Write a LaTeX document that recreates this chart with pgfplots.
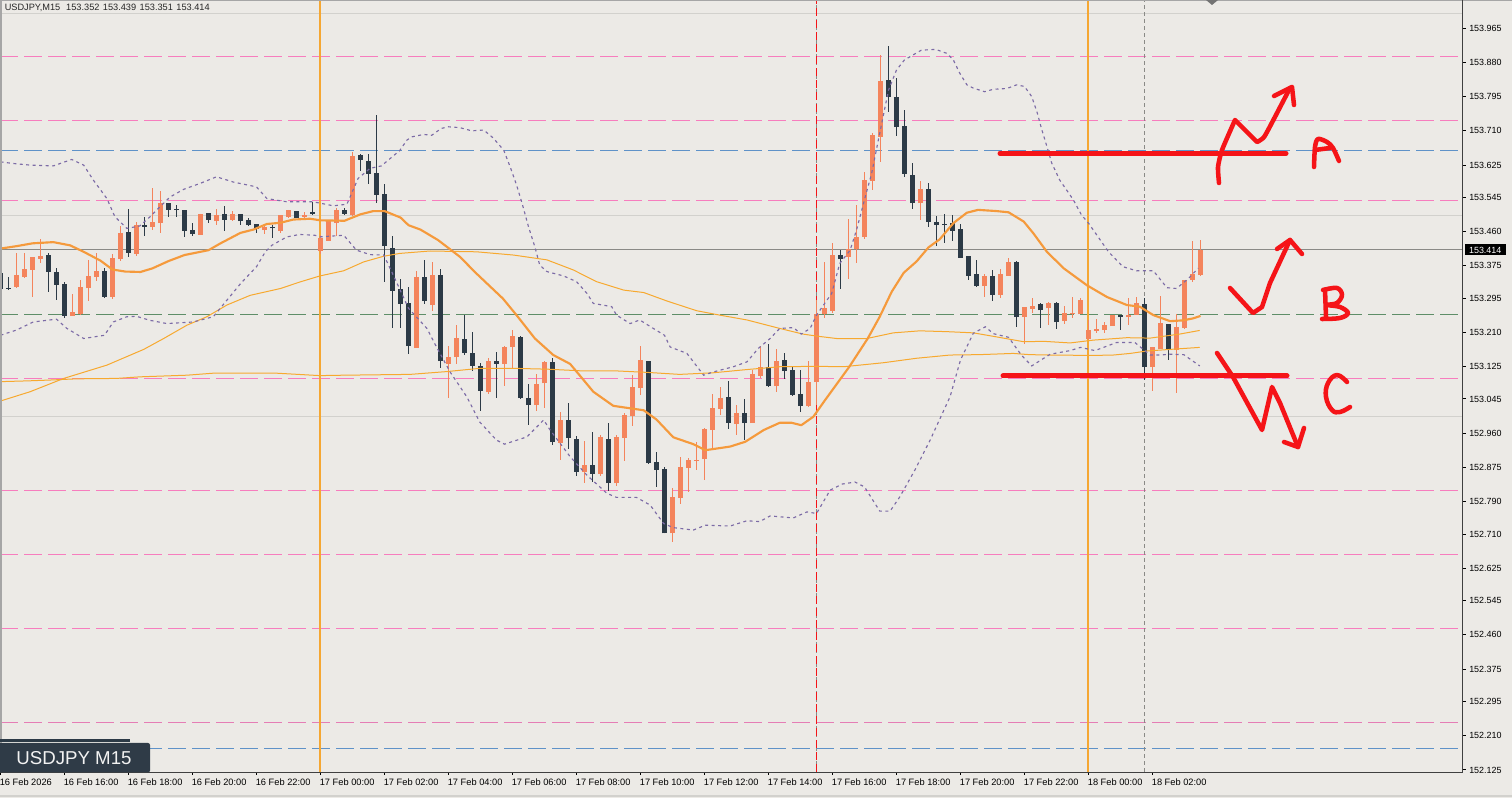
\documentclass[border=0pt]{standalone}
\usepackage{fontspec}
\setmainfont{Liberation Sans}
\usepackage{pgfplots}
\usepackage{pgfplotstable}
\pgfplotsset{compat=1.18}
\definecolor{bgc}{HTML}{ECEAE6}
\definecolor{bullc}{HTML}{F4845C}
\definecolor{bearc}{HTML}{2C3A46}
\definecolor{pinkl}{HTML}{F77DBE}
\definecolor{bluel}{HTML}{5F92C8}
\definecolor{greenl}{HTML}{5E8E68}
\definecolor{grayl}{HTML}{8A8A86}
\definecolor{lightl}{HTML}{D2D1CD}
\definecolor{vorange}{HTML}{F5A733}
\definecolor{maorange}{HTML}{F59A3C}
\definecolor{thinorange}{HTML}{F7A92F}
\definecolor{bandc}{HTML}{7C6BA6}
\definecolor{redl}{HTML}{F51418}
\definecolor{boxc}{HTML}{2F3B47}
\pgfplotstableread{
i o h l c
2 153.323 153.406 153.321 153.352
3 153.347 153.406 153.344 153.367
4 153.365 153.398 153.299 153.396
5 153.392 153.441 153.383 153.399
9 153.252 153.305 153.251 153.261
10 153.256 153.339 153.253 153.322
11 153.320 153.389 153.289 153.350
12 153.348 153.408 153.338 153.362
14 153.298 153.405 153.294 153.395
15 153.392 153.474 153.388 153.457
17 153.405 153.485 153.400 153.476
19 153.471 153.567 153.465 153.484
20 153.481 153.561 153.457 153.531
25 153.452 153.505 153.452 153.504
27 153.486 153.516 153.476 153.501
29 153.489 153.511 153.486 153.504
33 153.464 153.479 153.454 153.471
35 153.462 153.501 153.457 153.501
36 153.496 153.514 153.494 153.514
38 153.496 153.509 153.494 153.501
40 153.412 153.451 153.405 153.444
41 153.437 153.486 153.437 153.486
42 153.481 153.519 153.449 153.513
44 153.501 153.657 153.499 153.648
52 153.171 153.362 153.171 153.347
54 153.278 153.384 153.263 153.352
56 153.132 153.176 153.047 153.149
57 153.149 153.228 153.132 153.196
61 153.062 153.146 153.057 153.139
63 153.132 153.176 153.077 153.174
64 153.174 153.216 153.121 153.201
67 153.030 153.107 153.015 153.082
68 153.084 153.139 153.022 153.136
70 152.936 153.012 152.893 152.993
73 152.864 152.941 152.836 152.881
75 152.859 152.955 152.854 152.950
77 152.836 152.955 152.829 152.950
78 152.948 153.010 152.891 153.005
79 153.003 153.104 152.978 153.074
80 153.072 153.176 153.055 153.141
84 152.712 152.824 152.690 152.802
85 152.799 152.901 152.784 152.876
86 152.874 152.898 152.814 152.893
87 152.891 152.938 152.869 152.893
88 152.896 152.973 152.844 152.970
89 152.968 153.057 152.921 153.022
90 153.020 153.074 153.005 153.047
92 152.983 153.030 152.955 153.010
94 152.985 153.117 152.985 153.107
95 153.102 153.176 153.097 153.124
97 153.077 153.169 153.062 153.139
101 153.027 153.139 153.025 153.087
102 153.087 153.290 153.030 153.255
103 153.256 153.385 153.246 153.271
104 153.263 153.432 153.258 153.402
106 153.397 153.491 153.343 153.417
107 153.416 153.526 153.382 153.447
108 153.447 153.608 153.442 153.588
109 153.586 153.705 153.563 153.700
110 153.695 153.898 153.633 153.834
115 153.531 153.586 153.489 153.566
123 153.325 153.355 153.298 153.350
125 153.303 153.367 153.295 153.355
126 153.350 153.395 153.350 153.385
128 153.248 153.273 153.181 153.273
129 153.268 153.295 153.258 153.275
131 153.270 153.285 153.228 153.283
133 153.238 153.275 153.231 153.258
134 153.256 153.297 153.245 153.258
135 153.255 153.295 153.255 153.290
136 153.193 153.241 153.191 153.216
137 153.213 153.243 153.208 153.218
138 153.216 153.235 153.208 153.228
139 153.226 153.253 153.226 153.253
141 153.248 153.295 153.228 153.253
142 153.253 153.297 153.253 153.283
144 153.124 153.174 153.065 153.174
145 153.169 153.300 153.169 153.233
147 153.166 153.255 153.060 153.223
148 153.221 153.340 153.218 153.340
149 153.340 153.437 153.335 153.355
150 153.352 153.439 153.351 153.414
}\bulltable
\pgfplotstableread{
i o h l c
0 153.357 153.375 153.315 153.319
1 153.320 153.348 153.315 153.318
6 153.402 153.406 153.311 153.361
7 153.360 153.371 153.290 153.328
8 153.330 153.336 153.246 153.251
13 153.362 153.371 153.298 153.299
16 153.459 153.516 153.398 153.408
18 153.476 153.496 153.449 153.472
21 153.531 153.531 153.496 153.514
22 153.517 153.526 153.496 153.514
23 153.514 153.514 153.447 153.462
24 153.464 153.481 153.449 153.454
26 153.506 153.506 153.481 153.489
28 153.504 153.524 153.462 153.489
30 153.504 153.504 153.476 153.486
31 153.489 153.494 153.474 153.476
32 153.479 153.479 153.457 153.466
34 153.471 153.476 153.444 153.468
37 153.511 153.511 153.494 153.494
39 153.509 153.533 153.501 153.503
43 153.514 153.519 153.501 153.504
45 153.650 153.653 153.610 153.638
46 153.635 153.653 153.578 153.603
47 153.605 153.749 153.531 153.551
48 153.553 153.578 153.335 153.424
49 153.419 153.449 153.221 153.313
50 153.318 153.343 153.221 153.281
51 153.283 153.322 153.156 153.176
53 153.347 153.389 153.280 153.288
55 153.352 153.367 153.122 153.139
58 153.194 153.253 153.154 153.159
59 153.159 153.211 153.114 153.127
60 153.127 153.134 153.015 153.065
62 153.139 153.161 153.047 153.132
65 153.198 153.201 153.045 153.047
66 153.047 153.082 152.980 153.030
69 153.136 153.146 152.931 152.938
71 152.993 153.035 152.921 152.948
72 152.946 152.953 152.854 152.864
74 152.881 152.963 152.839 152.859
76 152.946 152.985 152.817 152.836
81 153.139 153.139 152.884 152.886
82 152.888 152.913 152.826 152.869
83 152.871 152.876 152.712 152.712
91 153.050 153.089 152.970 152.985
93 153.010 153.045 152.943 152.985
96 153.124 153.181 153.074 153.077
98 153.141 153.159 153.094 153.114
99 153.117 153.127 153.052 153.055
100 153.057 153.117 153.012 153.027
105 153.402 153.414 153.318 153.392
111 153.836 153.920 153.757 153.794
112 153.794 153.841 153.697 153.719
113 153.722 153.762 153.595 153.603
114 153.600 153.630 153.516 153.531
116 153.566 153.581 153.471 153.484
117 153.484 153.499 153.424 153.476
118 153.479 153.504 153.432 153.476
119 153.482 153.501 153.437 153.462
120 153.467 153.479 153.395 153.395
121 153.400 153.400 153.340 153.350
122 153.355 153.390 153.323 153.325
124 153.350 153.365 153.288 153.303
127 153.384 153.387 153.223 153.248
130 153.280 153.283 153.221 153.265
132 153.283 153.285 153.218 153.235
140 153.253 153.253 153.216 153.248
143 153.280 153.295 153.092 153.124
146 153.231 153.231 153.141 153.169
}\beartable
\pgfplotstableread{
i p
0 153.418
2 153.424
4 153.431
6.6 153.434
8.7 153.426
10.4 153.410
12.5 153.388
14 153.366
15.6 153.361
17.5 153.360
19 153.369
21 153.387
23 153.402
26 153.414
27.5 153.431
30 153.457
31.6 153.465
33.3 153.479
35 153.482
36.6 153.490
38.7 153.492
40 153.488
43 153.487
45 153.503
46.6 153.511
48 153.511
50 153.495
51 153.476
52.5 153.465
54.7 153.439
57.4 153.398
59.5 153.356
62.8 153.294
64.5 153.253
66.8 153.195
69.1 153.154
71.2 153.132
74.1 153.063
76.6 153.028
80.4 153.017
82 152.994
84.1 152.950
86.6 152.933
88.1 152.918
91.2 152.927
93.1 152.939
95.4 152.968
97.4 152.986
98.9 152.986
100.1 152.980
101.6 153.001
103.06 153.042
106.1 153.125
108.4 153.195
109.9 153.249
111.4 153.311
112.9 153.358
114.5 153.386
116 153.421
117.4 153.441
119.1 153.481
120.8 153.507
122.2 153.514
124.5 153.511
126 153.508
127.9 153.485
129.1 153.456
130.8 153.410
132.9 153.369
135.8 153.327
138.3 153.298
140.8 153.278
142.4 153.274
144.1 153.253
146.2 153.238
147.8 153.240
149.1 153.245
150 153.251
}\fastma
\pgfplotstableread{
i p
0 153.040
3.7 153.063
7.9 153.096
13.3 153.129
17.9 153.168
20.4 153.195
23.3 153.228
25.8 153.249
28.3 153.278
31.2 153.302
35 153.319
37.4 153.335
39.9 153.350
42.9 153.363
45.4 153.385
47.9 153.399
49.9 153.406
53.7 153.412
59.5 153.410
64.1 153.402
68.3 153.390
71.6 153.365
74.5 153.336
77.9 153.315
80.4 153.309
83.3 153.288
87 153.264
89.9 153.253
93.3 153.241
97.4 153.220
100.3 153.206
102 153.201
104.5 153.195
108.3 153.195
111.6 153.209
114.9 153.214
118.3 153.212
121.6 153.209
124.5 153.199
127.9 153.187
130.4 153.188
133.7 153.184
136.6 153.191
140.8 153.197
143.7 153.196
147.4 153.206
149.9 153.215
}\midma
\pgfplotstableread{
i p
0 153.088
3.5 153.090
6.2 153.092
9.5 153.095
14.5 153.096
17.5 153.100
20.4 153.102
23.3 153.104
26.6 153.109
34.5 153.109
39.9 153.103
42.9 153.104
51.2 153.106
55.8 153.113
59.9 153.121
64.1 153.121
68.3 153.119
72.4 153.115
76.6 153.115
80.8 153.111
84.9 153.106
89.1 153.110
93.3 153.118
97.4 153.125
102 153.126
105.4 153.125
110.4 153.135
114.5 153.146
118.7 153.154
122.4 153.155
126.6 153.158
128.6 153.155
131.2 153.154
136.6 153.153
139.1 153.154
141.2 153.158
143.3 153.164
149.9 153.173
}\slowma
\pgfplotstableread{
i p
0 153.633
1.6 153.629
3.7 153.625
6.6 153.623
8.9 153.639
10.4 153.625
11.6 153.588
13.3 153.542
14.3 153.497
15.8 153.468
17.4 153.474
18.7 153.497
19.9 153.521
21.2 153.546
22.9 153.565
25 153.580
27 153.596
29.1 153.583
32 153.571
33.3 153.542
35.8 153.534
39.1 153.534
41.6 153.524
43.3 153.528
44.7 153.592
46.2 153.617
47.6 153.623
49.9 153.661
50.8 153.687
51.4 153.695
52.9 153.701
53.9 153.699
55.1 153.716
56 153.720
57.4 153.718
58.9 153.710
60.4 153.712
61.6 153.692
62.9 153.662
63.7 153.621
64.5 153.576
65.2 153.530
66 153.472
66.8 153.422
67.4 153.377
68.3 153.361
70.4 153.350
72 153.336
73.3 153.307
74.1 153.282
76.4 153.274
77 153.253
78.7 153.232
79.9 153.241
81.6 153.220
83 153.203
83.7 153.174
85.8 153.158
87.9 153.104
89.1 153.112
91.6 153.125
93.3 153.137
94.7 153.170
96.2 153.195
97.4 153.220
99.1 153.222
100.1 153.206
101.2 153.220
102 153.253
103.9 153.307
104.9 153.381
106.2 153.414
107 153.464
108.1 153.547
108.9 153.605
109.9 153.704
111 153.811
112 153.861
113 153.886
115.1 153.910
116.9 153.912
118.3 153.902
119.1 153.886
119.9 153.853
120.8 153.824
121.6 153.816
123 153.807
124.1 153.813
125.8 153.815
127 153.824
128 153.820
128.9 153.795
129.6 153.754
130.1 153.717
130.8 153.671
131.4 153.630
132.4 153.588
134.1 153.539
135.1 153.502
136 153.481
138.5 153.410
140.3 153.373
142 153.363
144.1 153.363
145.8 153.321
147 153.319
148.5 153.344
149.7 153.369
}\upperband
\pgfplotstableread{
i p
0 153.203
2 153.216
4.1 153.236
7 153.243
8.3 153.220
10.4 153.195
13 153.203
14.1 153.236
15.8 153.249
17 153.250
18.7 153.240
20.8 153.232
24.1 153.236
26.6 153.249
28.3 153.290
30 153.331
32 153.373
33.1 153.410
33.9 153.426
35.8 153.447
37.4 153.453
39.3 153.451
39.9 153.447
42.9 153.451
44.5 153.414
46.2 153.403
47.9 153.402
49.1 153.352
51 153.270
53.3 153.220
54.5 153.174
56.2 153.112
58.3 153.050
59.9 152.988
62 152.943
63 152.933
65.8 152.951
67.9 152.993
68.7 152.968
71.2 152.902
73.3 152.856
75.8 152.811
77 152.801
79.5 152.801
81.2 152.782
82.9 152.736
84.1 152.726
86.6 152.720
88.1 152.732
91.2 152.730
93.3 152.743
94.9 152.741
96.2 152.755
99.1 152.750
100.8 152.765
102 152.761
103.7 152.819
105.2 152.834
106.8 152.839
108 152.827
109.9 152.767
111.2 152.767
112.4 152.802
114.3 152.869
116.2 152.943
118.7 153.051
120 153.142
121.6 153.208
123.1 153.224
124.1 153.207
126 153.198
127.6 153.154
128.9 153.127
131.2 153.156
133.7 153.165
135 153.173
136.8 153.165
139.5 153.185
141.8 153.185
143.7 153.154
144.9 153.154
146.2 153.156
147.9 153.155
149.9 153.127
}\lowerband
\newcommand{\hl}[2]{\addplot[forget plot,#1,line width=0.75pt] coordinates {(-0.0625,#2) (182.75,#2)};}
\newcommand{\vl}[2]{\addplot[forget plot,#1] coordinates {(#2,152.120) (#2,154.032)};}
\begin{document}
\begin{tikzpicture}[x=1pt,y=1pt]
\path[use as bounding box,fill=bgc] (0,0) rectangle (1134pt,598.5pt);
\begin{axis}[
  at={(0pt,19.5pt)},anchor=south west,
  scale only axis,width=1096.875pt,height=578.25pt,
  xmin=-0.0625,xmax=182.75,ymin=152.120,ymax=154.032,
  axis line style={draw=none},
  xtick={0,8,...,144},
  xticklabels={16 Feb 2026,16 Feb 16:00,16 Feb 18:00,16 Feb 20:00,16 Feb 22:00,17 Feb 00:00,17 Feb 02:00,17 Feb 04:00,17 Feb 06:00,17 Feb 08:00,17 Feb 10:00,17 Feb 12:00,17 Feb 14:00,17 Feb 16:00,17 Feb 18:00,17 Feb 20:00,17 Feb 22:00,18 Feb 00:00,18 Feb 02:00},
  ytick={152.125,152.210,152.295,152.375,152.460,152.545,152.625,152.710,152.790,152.875,152.960,153.045,153.125,153.210,153.295,153.375,153.460,153.545,153.625,153.710,153.795,153.880,153.965},
  xtick pos=bottom,ytick pos=right,yticklabel pos=right,
  tick align=outside,major tick length=2.25pt,
  tick style={draw=black,line width=0.75pt},
  x tick label style={font=\fontsize{6.95}{8}\selectfont,anchor=north west,inner sep=0pt,xshift=-0.7pt,yshift=-2.8pt},
  y tick label style={font=\fontsize{6.7}{8}\selectfont,anchor=west,inner sep=0pt,xshift=2.6pt,
    /pgf/number format/.cd,fixed,fixed zerofill,precision=3,1000 sep={},assume math mode=true},
  clip=true,
  wick/.style={draw=none,mark=none,forget plot,error bars/.cd,y dir=both,y explicit,error mark=none,
     error bar style={line width=0.75pt,draw=#1}},
  body/.style={draw=none,mark=none,forget plot,error bars/.cd,y dir=plus,y explicit,error mark=none,
     error bar style={line width=3.75pt,draw=#1}},
]
% horizontal levels
\hl{lightl,line width=1.5pt}{154.002}
\hl{lightl}{153.500}
\hl{lightl,line width=1.5pt}{153.001}
\hl{pinkl,dash pattern=on 13.5pt off 4.5pt}{153.8944}
\hl{pinkl,dash pattern=on 13.5pt off 4.5pt}{153.7357}
\hl{pinkl,dash pattern=on 13.5pt off 4.5pt}{153.5373}
\hl{pinkl,dash pattern=on 13.5pt off 4.5pt}{153.0959}
\hl{pinkl,dash pattern=on 13.5pt off 4.5pt}{152.8174}
\hl{pinkl,dash pattern=on 13.5pt off 4.5pt}{152.6586}
\hl{pinkl,dash pattern=on 13.5pt off 4.5pt}{152.4759}
\hl{pinkl!85!gray,dash pattern=on 13.5pt off 4.5pt}{152.2420}
\hl{bluel,dash pattern=on 13.5pt off 4.5pt}{153.6613}
\hl{bluel,dash pattern=on 13.5pt off 4.5pt}{152.1783}
\hl{greenl,dash pattern=on 13.5pt off 4.5pt}{153.2538}
\hl{grayl}{153.4158}
% vertical markers
\vl{vorange,line width=1.5pt}{39.95}
\vl{vorange,line width=1.5pt}{135.95}
\vl{grayl,line width=0.75pt,dash pattern=on 3pt off 2.25pt}{143}
\vl{grayl,line width=0.75pt,dash pattern=on 3pt off 2.25pt}{102}
\vl{redl,line width=0.9pt,dash pattern=on 6pt off 3pt}{102}
% candles
\addplot[wick=bullc] table[x=i,y=c,y error plus expr=\thisrow{h}-\thisrow{c},y error minus expr=\thisrow{c}-\thisrow{l}] {\bulltable};
\addplot[wick=bearc] table[x=i,y=c,y error plus expr=\thisrow{h}-\thisrow{c},y error minus expr=\thisrow{c}-\thisrow{l}] {\beartable};
\addplot[body=bullc] table[x=i,y=o,y error plus expr=\thisrow{c}-\thisrow{o}] {\bulltable};
\addplot[body=bearc] table[x=i,y=c,y error plus expr=\thisrow{o}-\thisrow{c}] {\beartable};
% indicators
\addplot[forget plot,thinorange,line width=0.75pt] table[x=i,y=p] {\slowma};
\addplot[forget plot,thinorange,line width=0.75pt] table[x=i,y=p] {\midma};
\addplot[forget plot,maorange,line width=1.6pt,line join=round] table[x=i,y=p] {\fastma};
\addplot[forget plot,bandc,line width=0.85pt,dash pattern=on 2.25pt off 2.6pt] table[x=i,y=p] {\upperband};
\addplot[forget plot,bandc,line width=0.85pt,dash pattern=on 2.25pt off 2.6pt] table[x=i,y=p] {\lowerband};
\end{axis}
\begin{scope}[shift={(0pt,598.5pt)},x=0.75pt,y=-0.75pt]
% frame
\draw[gray!70,line width=1.5pt] (0.5,0) -- (0.5,772);
\draw[gray!70,line width=0.75pt] (0,0.5) -- (1512,0.5);
\draw[lightl,line width=1.5pt] (0,796.5) -- (1512,796.5);
\draw[black!75,line width=0.75pt] (1462.5,0) -- (1462.5,772);
\draw[black!75,line width=0.75pt] (0,772.3) -- (1462.5,772.3);
\fill[gray!90!black] (1206,0) -- (1218,0) -- (1212,5) -- cycle;
\node[anchor=west,inner sep=0pt,font=\fontsize{6.9}{8}\selectfont,text=black!85] at (4.5,7.5) {USDJPY,M15\ \ \hspace{0.6pt}153.352\hspace{0.7pt} 153.439\hspace{0.7pt} 153.351\hspace{0.7pt} 153.414};
% price tag
\fill[black] (1465,244.5) rectangle (1505.5,255.5);
\node[inner sep=0pt,font=\fontsize{6.7}{8}\selectfont,text=white] at (1485.2,250) {153.414};
% label box
\draw[bearc,line width=2.2pt] (0,740.3) -- (130,740.3);
\fill[boxc,rounded corners=1.5pt] (-2,743) rectangle (150,772.5);
\node[anchor=center,inner sep=0pt,font=\fontsize{14}{16}\selectfont,text=white!90!gray] at (74,758) {USDJPY M15};
% hand-drawn annotations
\begin{scope}[redl,line width=3.4pt,line cap=round,line join=round]
\draw[line width=3.75pt] (1000,153.3) -- (1286,153.3);
\draw[line width=3.75pt] (1003,376) -- (1287,376);
\draw plot[smooth,tension=0.35] coordinates {(1219,183) (1218,167) (1222,150) (1235,120)} -- (1257,142) -- plot[smooth,tension=0.5] coordinates {(1257,142) (1262,139) (1267,132) (1290,88)};
\draw (1274,96) -- (1292,87) -- (1294,105);
\draw plot[smooth,tension=0.5] coordinates {(1314,167) (1315,147) (1318,139) (1327,142) (1333,148) (1339,161)};
\draw (1315,150) -- (1330,148);
\draw (1230,288) -- (1253,313) -- (1262,307) -- (1270,283) -- (1290,240);
\draw (1277,249) -- (1290,240) -- (1302,254);
\draw (1325,290) -- (1326,317);
\draw plot[smooth,tension=0.6] coordinates {(1323,290) (1337,288) (1342,295) (1337,303) (1328,305) (1340,307) (1348,313) (1340,318) (1322,319)};
\draw (1217,353) -- (1233,377) -- (1262,430) -- (1272,387) -- (1280,403) -- (1298,447);
\draw (1284,442) -- (1298,447) -- (1304,428);
\draw plot[smooth,tension=0.7] coordinates {(1347,382) (1337,375) (1328,383) (1326,397) (1332,410) (1340,412) (1350,407)};
\end{scope}
\end{scope}
\end{tikzpicture}
\end{document}
